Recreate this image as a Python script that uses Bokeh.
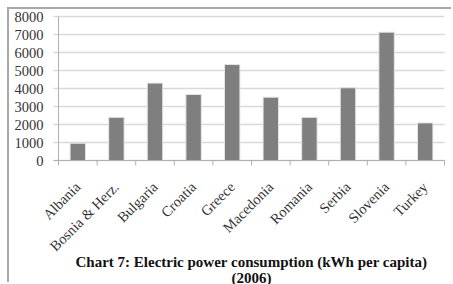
from bokeh.plotting import figure
from bokeh.models import ColumnDataSource, Range1d
from bokeh.core.properties import value
from bokeh.embed import file_html
from bokeh.resources import INLINE
import math

countries = ["Albania", "Bosnia & Herz.", "Bulgaria", "Croatia", "Greece",
             "Macedonia", "Romania", "Serbia", "Slovenia", "Turkey"]
consumption = [960, 2400, 4300, 3670, 5330, 3520, 2400, 4040, 7130, 2090]
y_ticks = [0, 1000, 2000, 3000, 4000, 5000, 6000, 7000, 8000]
y_labels = [str(t) for t in y_ticks]
title_line1 = "Chart 7: Electric power consumption (kWh per capita)"
title_line2 = "(2006)"

n = len(countries)
xs = [i + 0.5 for i in range(n)]
bounds = list(range(n + 1))
src = ColumnDataSource(dict(x=xs, top=consumption, name=countries))

FONT = "Liberation Serif"
AXIS_COLOR = "#b0b0b0"
GRID_COLOR = "#d9d9d9"

# Page geometry (figure placed 9 px in from the window's top-left corner).
W, H = 444, 275
PLOT_LEFT, PLOT_RIGHT, PLOT_TOP = 49, 9, 7        # px around the value area
PX_X = (W - PLOT_LEFT - PLOT_RIGHT) / n            # px per category
PX_Y = 18 / 1000                                   # px per kWh
x_lo = -PLOT_LEFT / PX_X
x_hi = n + PLOT_RIGHT / PX_X
y_hi = y_ticks[-1] + PLOT_TOP / PX_Y
y_lo = y_hi - H / PX_Y

def px_x(v):
    return v / PX_X

def px_y(v):
    return v / PX_Y

p = figure(width=W, height=H, output_backend="svg", toolbar_location=None,
           x_range=Range1d(x_lo, x_hi), y_range=Range1d(y_lo, y_hi),
           min_border=0, background_fill_color="white", border_fill_color="white")
p.outline_line_color = None
p.axis.visible = False
p.grid.visible = False
p.styles = {"margin-left": "9px", "margin-top": "9px",
            "box-shadow": "-2px -2px 0 0 #a8a8a8"}

# horizontal gridlines (with their outward tick on the value axis)
p.segment(x0=[-px_x(5)] * len(y_ticks), y0=y_ticks, x1=[n] * len(y_ticks), y1=y_ticks,
          line_color=GRID_COLOR, line_width=1.5)

p.vbar(x="x", top="top", width=0.4, source=src, fill_color="#7f7f7f",
       line_color="#e6e6e6", line_width=1)

# value axis
p.segment(x0=[0], y0=[y_ticks[0]], x1=[0], y1=[y_ticks[-1]],
          line_color=AXIS_COLOR, line_width=1)
p.text(x=[0] * len(y_ticks), y=y_ticks, text=y_labels, x_offset=-15,
       text_align="right", text_baseline="middle",
       text_font=value(FONT), text_font_size="14.5px", text_color="#333333")

# category axis
p.segment(x0=[-px_x(5)], y0=[0], x1=[n], y1=[0], line_color=AXIS_COLOR, line_width=1)
p.segment(x0=bounds, y0=[0] * len(bounds), x1=bounds, y1=[-px_y(5)] * len(bounds),
          line_color=AXIS_COLOR, line_width=1)
p.text(x="x", y=-px_y(24), text="name", source=src, angle=math.pi / 4,
       text_align="right", text_baseline="middle",
       text_font=value(FONT), text_font_size="14.5px", text_color="#333333")

# caption
p.text(x=[n / 2], y=[-px_y(101)], text=[title_line1], text_align="center",
       text_baseline="alphabetic", text_font=value(FONT), text_font_size="15px",
       text_font_style="bold", text_color="#111111")
p.text(x=[n / 2], y=[-px_y(117)], text=[title_line2], text_align="center",
       text_baseline="alphabetic", text_font=value(FONT), text_font_size="15px",
       text_font_style="bold", text_color="#111111")

open("out.html", "w").write(file_html(p, INLINE))
